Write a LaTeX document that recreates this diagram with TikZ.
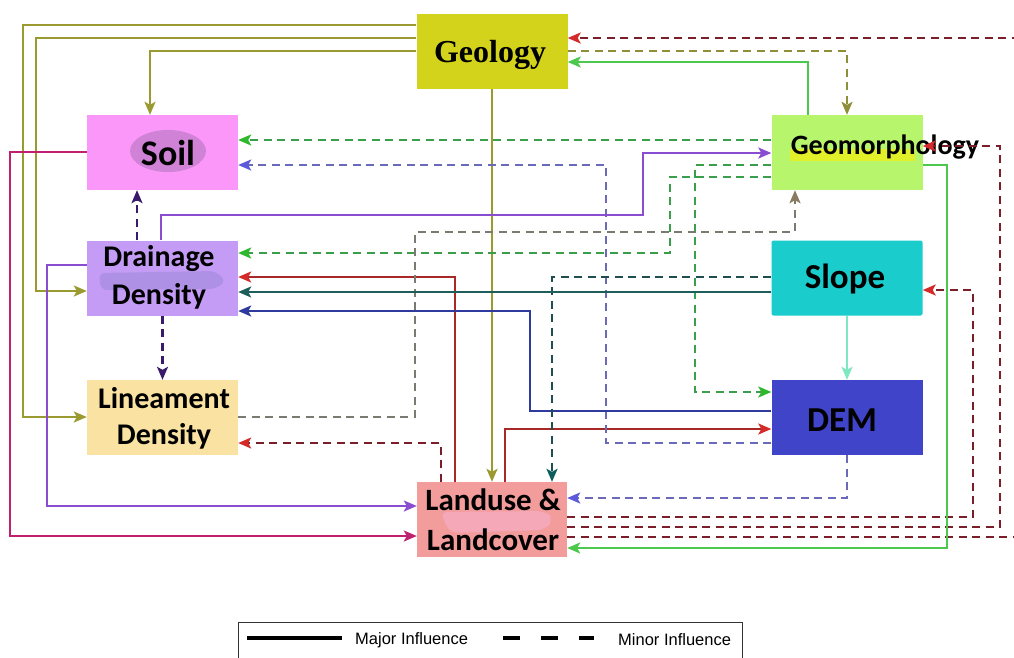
\documentclass[tikz,border=0pt]{standalone}
\usepackage{fontspec}
\setmainfont{Carlito}
\newfontfamily\geofont{Liberation Serif}
\newfontfamily\legfont{Liberation Sans}
\usetikzlibrary{arrows.meta,calc}
\definecolor{cGeo}{HTML}{D2D31A}
\definecolor{cSoil}{HTML}{FB97F8}
\definecolor{cSoilB}{HTML}{CF82D6}
\definecolor{cDrain}{HTML}{C49CF6}
\definecolor{cDrainB}{HTML}{AE90E4}
\definecolor{cLin}{HTML}{F9E2A2}
\definecolor{cLand}{HTML}{F39C9C}
\definecolor{cLandB}{HTML}{F5A8B8}
\definecolor{cGeom}{HTML}{B7F56C}
\definecolor{cGeomB}{HTML}{E2F02A}
\definecolor{cSlope}{HTML}{1ACCCC}
\definecolor{cDem}{HTML}{3F44C8}
\definecolor{lOlive}{HTML}{9A9A30}
\definecolor{lRed}{HTML}{A82828}
\definecolor{hRed}{HTML}{D42A2A}
\definecolor{lDRed}{HTML}{7A1E2A}
\definecolor{lGrn}{HTML}{4CC84C}
\definecolor{lGrnD}{HTML}{3A9E4A}
\definecolor{hGrn}{HTML}{2EB82E}
\definecolor{lOlD}{HTML}{8F8F3A}
\definecolor{lGray}{HTML}{7A7A70}
\definecolor{hGray}{HTML}{8A7A60}
\definecolor{lBluD}{HTML}{6A6AB8}
\definecolor{hBlu}{HTML}{5A5ADA}
\definecolor{lTealD}{HTML}{1E4E4E}
\definecolor{hTeal}{HTML}{0E5E5E}
\definecolor{lTeal}{HTML}{1E5E5A}
\definecolor{lAqua}{HTML}{7FE8C0}
\definecolor{lBlue}{HTML}{2E3A9E}
\definecolor{lPur}{HTML}{8A4CD0}
\definecolor{lDPur}{HTML}{3A1A6A}
\definecolor{lMag}{HTML}{C02070}
\begin{document}
\begin{tikzpicture}[x=1pt,y=-1pt,
  box/.style={minimum width=151pt,minimum height=75pt,inner sep=0pt,draw=none},
  txt/.style={align=center,inner sep=0pt,text=black},
  ar/.style={-{Stealth[length=13pt,width=11pt,inset=3pt,color=#1]}},
  sol/.style={line width=2pt,draw=#1},
  dsh/.style={line width=2.1pt,draw=#1,dash pattern=on 8pt off 5.5pt}
]
\useasboundingbox (0,0) rectangle (1014,657);
\clip (0,0) rectangle (1014,657);
\fill[white] (0,0) rectangle (1014,657);

% boxes
\node[box,fill=cGeo]   (geo)   at (492,51)    {};
\node[box,fill=cSoil]  (soil)  at (162.5,152.5) {};
\node[box,fill=cDrain] (drain) at (162.5,278) {};
\node[box,fill=cLin]   (lin)   at (162.5,417.5) {};
\node[box,fill=cLand,minimum width=150pt] (land) at (492,519.5) {};
\node[box,fill=cGeom]  (geom)  at (847,152.5) {};
\node[box,fill=cSlope,rounded corners=2pt] (slope) at (847,278) {};
\node[box,fill=cDem]   (dem)   at (847,417.5) {};

% highlight blobs
\fill[cSoilB] (168,151) ellipse [x radius=38, y radius=21];
\fill[cDrainB,rounded corners=6pt] (99,273) -- (215,271) -- (226,281) -- (215,289) -- (101,290) -- cycle;
\fill[cLandB,rounded corners=8pt] (440,512) -- (545,511) -- (554,519) -- (545,530) -- (450,533) -- cycle;
\fill[cGeomB] (790,149) rectangle (915,161);

% texts
\node[txt,font=\geofont\fontsize{32}{36}\selectfont\bfseries] (geoT) at (490,55) {Geology};
\node[txt,font=\fontsize{36}{40}\selectfont\bfseries] (soilT) at (168,153) {Soil};
\node[txt,font=\fontsize{30}{38}\selectfont\bfseries] (drainT) at (159,277) {Drainage\\Density};
\node[txt,font=\fontsize{30}{36}\selectfont\bfseries] (linT) at (164,418) {Lineament\\Density};
\node[txt,font=\fontsize{31}{40}\selectfont\bfseries] (landT) at (493,520) {Landuse \&\\Landcover};
\node[txt,font=\fontsize{28}{32}\selectfont\bfseries] (geomT) at (885,147) {Geomorphology};
\node[txt,font=\fontsize{35}{40}\selectfont\bfseries] (slopeT) at (845,279) {Slope};
\node[txt,font=\fontsize{35}{40}\selectfont\bfseries] (demT) at (842,420) {DEM};

% Geology influences
\draw[sol=lOlive,ar=lOlive] (geo.west |- 0,25) -| (23,417) -- (lin.west |- 0,417);
\draw[sol=lOlive,ar=lOlive] (geo.west |- 0,38) -| (36,291) -- (drain.west |- 0,291);
\draw[sol=lOlive,ar=lOlive] (geo.west |- 0,51) -| (soil.north -| 150,0);
\draw[sol=lOlive,ar=lOlive] (geo.south) -- (land.north);
\draw[dsh=lOlD,ar=lOlD] (geo.east |- 0,51) -| (geom.north);

% Landuse influences
\draw[dsh=lDRed,ar=hRed] (land.east |- 0,517) -| (973,290) -- (slope.east |- 0,290);
\draw[dsh=lDRed,ar=hRed] (land.east |- 0,527) -| (1000,146) -- (geom.east |- 0,146);
\draw[dsh=lDRed,ar=hRed] (land.east |- 0,537) -| (1030,38) -- (geo.east |- 0,38);
\draw[dsh=lDRed,ar=hRed] (land.north -| 441,0) |- (lin.east |- 0,443);
\draw[sol=lRed,ar=hRed] (land.north -| 455,0) |- (drain.east |- 0,277);
\draw[sol=lRed,ar=hRed] (land.north -| 505,0) |- (dem.west |- 0,429);

% Geomorphology influences
\draw[sol=lGrn,ar=lGrn] (geom.north -| 808,0) |- (geo.east |- 0,62);
\draw[sol=lGrn,ar=lGrn] (geom.east |- 0,165) -| (947,548) -- (land.east |- 0,548);
\draw[dsh=lGrnD,ar=hGrn] (geom.west |- 0,140) -- (soil.east |- 0,140);
\draw[dsh=lGrnD,ar=hGrn] (geom.west |- 0,165) -| (695,392) -- (dem.west |- 0,392);
\draw[dsh=lGrnD,ar=hGrn] (geom.west |- 0,177) -| (670,253) -- (drain.east |- 0,253);

% Lineament influence
\draw[dsh=lGray,ar=hGray] (lin.east |- 0,417) -| (415,232) -| (geom.south -| 795,0);

% DEM influences
\draw[dsh=lBluD,ar=hBlu] (dem.west |- 0,443) -| (606,165) -- (soil.east |- 0,165);
\draw[dsh=lBluD,ar=hBlu] (dem.south) |- (land.east |- 0,498);
\draw[sol=lBlue,ar=lBlue] (dem.west |- 0,411) -| (530,311) -- (drain.east |- 0,311);

% Slope influences
\draw[dsh=lTealD,ar=hTeal] (slope.west |- 0,277) -| (land.north -| 552,0);
\draw[sol=lTeal,ar=lTeal] (slope.west |- 0,292) -- (drain.east |- 0,292);
\draw[sol=lAqua,ar=lAqua] (slope.south) -- (dem.north);

% Drainage influences
\draw[sol=lPur,ar=lPur] (drain.north -| 161,0) |- (643,215) |- (geom.west |- 0,153);
\draw[sol=lPur,ar=lPur] (drain.west |- 0,265) -| (47,506) -- (land.west |- 0,506);
\draw[dsh=lDPur,ar=lDPur] (drain.north -| 137,0) -- (soil.south -| 137,0);
\draw[dsh=lDPur,ar=lDPur] (drain.south) -- (lin.north);

% Soil influence
\draw[sol=lMag,ar=lMag] (soil.west |- 0,152) -| (10,536) -- (land.west |- 0,536);

% legend
\draw[line width=1pt,black!80] (238,670) -- (238,622) -- (742,622) -- (742,670);
\draw[line width=4pt,black] (247,638) -- (342,638);
\draw[line width=4pt,black,dash pattern=on 17pt off 21pt] (503,638) -- (594,638);
\node[txt,anchor=west,font=\legfont\fontsize{16.5}{18}\selectfont] (majT) at (355,640) {Major Influence};
\node[txt,anchor=west,font=\legfont\fontsize{16.5}{18}\selectfont] (minT) at (618,640) {Minor Influence};
\end{tikzpicture}
\end{document}
